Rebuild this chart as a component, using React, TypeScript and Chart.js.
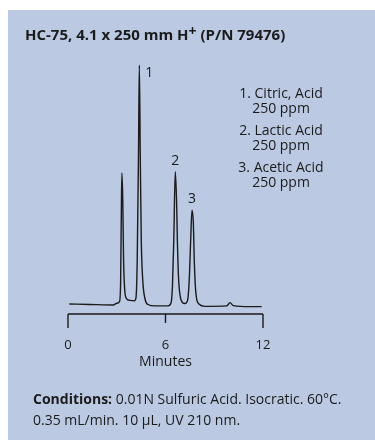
import React, { useEffect, useRef } from "react";
import { Chart, registerables } from "chart.js";

Chart.register(...registerables);

// ---- data ----
const traceMinutes = [
  0.08, 1.35, 2.79, 3.0, 3.17, 3.24, 3.29, 3.32, 3.37, 3.42, 3.49, 3.6, 3.82, 4.06,
  4.18, 4.26, 4.34, 4.39, 4.45, 4.51, 4.6, 4.74, 4.92, 5.35, 6.15, 6.34, 6.43, 6.51,
  6.6, 6.68, 6.73, 6.8, 6.94, 7.17, 7.35, 7.46, 7.55, 7.63, 7.71, 7.78, 7.88, 8.06,
  8.43, 9.77, 9.97, 10.17, 11.2, 11.92,
];
const traceSignal = [
  0, -0.2, -0.4, 0.3, 1.0, 10, 43.5, 54.8, 43.5, 18.4, 5.9, 2.3, 1.5, 1.3,
  2.5, 18.4, 64.4, 100, 60.3, 26.8, 10, 2.1, -0.2, -0.8, -0.8, 0.4, 7.9, 26.8,
  55.4, 43.5, 26.8, 11.3, 2.1, 0.2, 1.3, 10, 26.8, 39.3, 34.3, 16.3, 3.8, 0,
  -1, -0.8, 0.6, -0.7, -1.1, -1.1,
];
const peakLabels = ["1", "2", "3"];
const peakTimes = [4.39, 6.6, 7.63];
const peakHeights = [100, 55.4, 39.3];
const tickValues = [0, 6, 12];
const tickLabels = ["0", "6", "12"];
const axisTitle = "Minutes";
const legendItems = ["1. Citric, Acid", "2. Lactic Acid", "3. Acetic Acid"];
const legendAmounts = ["250 ppm", "250 ppm", "250 ppm"];

const FONT = '"Liberation Sans Narrow", "Open Sans", sans-serif';
const INK = "#1b1b1b";
const BG = "rgb(187,202,226)";

export default function App() {
  const ref = useRef<HTMLCanvasElement | null>(null);

  useEffect(() => {
    if (!ref.current) return;
    const annotate = {
      id: "annotate",
      afterDatasetsDraw(chart: any) {
        const { ctx, scales } = chart;
        const xs = scales.x;
        const ys = scales.y;
        ctx.save();
        ctx.fillStyle = INK;
        ctx.strokeStyle = INK;
        // peak labels
        ctx.font = `14px ${FONT}`;
        peakLabels.forEach((lab, i) => {
          const px = xs.getPixelForValue(peakTimes[i]);
          const py = ys.getPixelForValue(peakHeights[i]);
          if (i === 0) {
            ctx.textAlign = "left";
            ctx.textBaseline = "alphabetic";
            ctx.fillText(lab, px + 6, py + 12);
          } else {
            ctx.textAlign = "center";
            ctx.textBaseline = "alphabetic";
            ctx.fillText(lab, px, py - 7);
          }
        });
        // bracket axis
        const yAxis = ys.getPixelForValue(ys.min);
        const x0 = xs.getPixelForValue(tickValues[0]);
        const x1 = xs.getPixelForValue(tickValues[tickValues.length - 1]);
        ctx.lineWidth = 1.4;
        ctx.beginPath();
        ctx.moveTo(x0, yAxis);
        ctx.lineTo(x1, yAxis);
        tickValues.forEach((v, i) => {
          const px = xs.getPixelForValue(v);
          const len = i === 0 || i === tickValues.length - 1 ? 14 : 9;
          ctx.moveTo(px, yAxis);
          ctx.lineTo(px, yAxis + len);
        });
        ctx.stroke();
        ctx.font = `13px ${FONT}`;
        ctx.textAlign = "center";
        ctx.textBaseline = "alphabetic";
        tickValues.forEach((v, i) => {
          ctx.fillText(tickLabels[i], xs.getPixelForValue(v), yAxis + 35);
        });
        ctx.font = `14px ${FONT}`;
        ctx.fillText(axisTitle, (x0 + x1) / 2, yAxis + 52);
        ctx.restore();
      },
    };

    const chart = new Chart(ref.current, {
      type: "line",
      data: {
        datasets: [
          {
            data: traceMinutes.map((m, i) => ({ x: m, y: traceSignal[i] })),
            borderColor: INK,
            borderWidth: 1.4,
            pointRadius: 0,
            cubicInterpolationMode: "monotone",
            fill: false,
            clip: false as any,
          },
        ],
      },
      options: {
        responsive: false,
        animation: false,
        layout: { padding: { left: 68, right: 112, top: 53, bottom: 126 } },
        plugins: { legend: { display: false }, tooltip: { enabled: false } },
        scales: {
          x: { type: "linear", min: 0, max: 12, display: false },
          y: { type: "linear", min: -4.18, max: 105.03, display: false },
        },
      },
      plugins: [annotate],
    });
    return () => chart.destroy();
  }, []);

  const txt: React.CSSProperties = {
    position: "absolute",
    fontFamily: FONT,
    color: INK,
    whiteSpace: "nowrap",
    lineHeight: 1,
  };

  return (
    <div style={{ position: "fixed", left: 0, top: 0, width: 375, height: 440, background: "#fff", overflow: "hidden" }}>
      <div style={{ position: "absolute", left: 8, top: 10, right: 0, bottom: 0, background: BG }} />
      <canvas ref={ref} width={375} height={440} style={{ position: "absolute", left: 0, top: 0, width: 375, height: 440 }} />
      <div style={{ ...txt, left: 25, top: 27, fontSize: 15, fontWeight: 700 }}>
        HC-75, 4.1 x 250 mm H<span style={{ position: "relative", top: -4, fontSize: 14 }}>+</span> (P/N 79476)
      </div>
      <div style={{ position: "absolute", left: 221, top: 85, width: 120, textAlign: "center", fontFamily: FONT, color: INK, fontSize: 14 }}>
        {legendItems.map((it, i) => (
          <div key={i} style={{ lineHeight: "15px", marginBottom: 7 }}>
            <div>{it}</div>
            <div>{legendAmounts[i]}</div>
          </div>
        ))}
      </div>
      <div style={{ ...txt, left: 33, top: 388, fontSize: 14, lineHeight: "21px" }}>
        <div><b>Conditions:</b> 0.01N Sulfuric Acid. Isocratic. 60°C.</div>
        <div>0.35 mL/min. 10 µL, UV 210 nm.</div>
      </div>
    </div>
  );
}
